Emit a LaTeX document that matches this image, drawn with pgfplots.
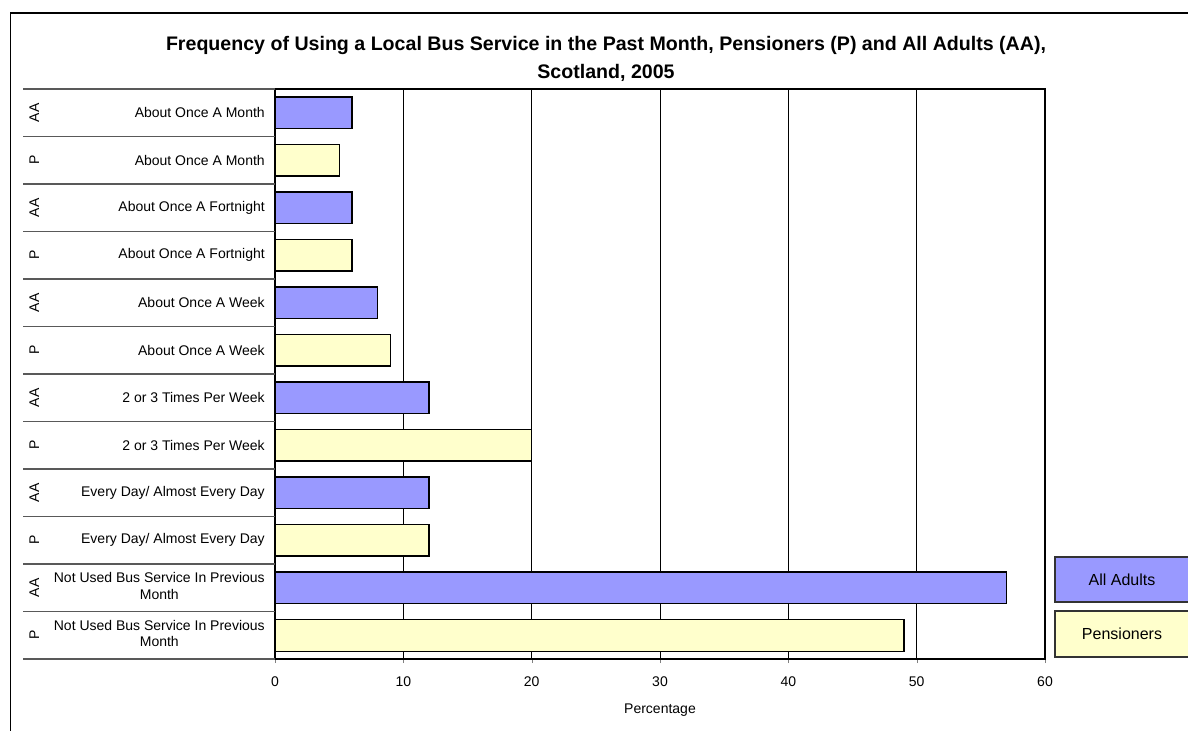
\documentclass[border=0pt]{standalone}
\usepackage{fontspec}
\setmainfont{Liberation Sans}
\usepackage{graphicx}
\usepackage{pgfplots}
\pgfplotsset{compat=1.18}
\definecolor{aacol}{HTML}{9999FF}
\definecolor{pcol}{HTML}{FFFFCC}
\newcommand{\lab}[2]{\parbox[c]{20pt}{\centering\rotatebox{90}{#1}}\parbox[c]{162.75pt}{\raggedleft #2}}
\newcommand{\twol}[2]{\begin{tabular}{@{}c@{}}#1\\#2\end{tabular}}
\begin{document}
\begin{tikzpicture}[x=0.75pt,y=0.75pt]
\useasboundingbox (0,0) rectangle (1188,731);
\draw[line width=0.9pt] (10.5,0) -- (10.5,718) -- (1200,718);
\node[align=center,font=\bfseries\fontsize{14.7}{21}\selectfont] at (606,672) {Frequency of Using a Local Bus Service in the Past Month, Pensioners (P) and All Adults (AA),\\Scotland, 2005};
\begin{axis}[
  at={(206.25pt,54pt)}, anchor=south west,
  scale only axis, width=577.5pt, height=427.5pt,
  xmin=0, xmax=60, xtick={0,10,...,60},
  ymin=-0.5, ymax=11.5, y dir=reverse,
  ytick={0,...,11},
  yticklabels={
    {\lab{AA}{About Once A Month}},
    {\lab{P}{About Once A Month}},
    {\lab{AA}{About Once A Fortnight}},
    {\lab{P}{About Once A Fortnight}},
    {\lab{AA}{About Once A Week}},
    {\lab{P}{About Once A Week}},
    {\lab{AA}{2 or 3 Times Per Week}},
    {\lab{P}{2 or 3 Times Per Week}},
    {\lab{AA}{Every Day/ Almost Every Day}},
    {\lab{P}{Every Day/ Almost Every Day}},
    {\lab{AA}{\twol{Not Used Bus Service In Previous}{Month}}},
    {\lab{P}{\twol{Not Used Bus Service In Previous}{Month}}}},
  ytick style={draw=none},
  yticklabel style={anchor=east,inner sep=0pt,xshift=-4.5pt,font=\fontsize{10.5}{12.5}\selectfont},
  xticklabel style={font=\fontsize{10.5}{12.5}\selectfont},
  x tick label style={yshift=-7pt},
  /pgf/number format/assume math mode=true,
  tick align=outside, xtick pos=bottom,
  major tick length=3pt,
  xmajorgrids, grid style={black, line width=0.6pt},
  axis line style={black, line width=0.8pt},
  xlabel={Percentage},
  xlabel style={font=\fontsize{10.5}{12.5}\selectfont, yshift=-6pt},
  xbar, bar width=0.67, bar shift=0pt,
  clip=false,
]
\addplot[fill=aacol, draw=black, line width=1pt] coordinates {(6,0) (6,2) (8,4) (12,6) (12,8) (57,10)};
\addplot[fill=pcol, draw=black, line width=1pt] coordinates {(5,1) (6,3) (9,5) (20,7) (12,9) (49,11)};
\pgfplotsinvokeforeach{-0.5,0.5,1.5,2.5,3.5,4.5,5.5,6.5,7.5,8.5,9.5,10.5,11.5}{
  \draw[black!65, line width=0.8pt] (axis cs:0,#1) -- ++(-189pt,0pt);
}
\end{axis}
\draw[fill=aacol, draw=black!80, line width=0.8pt] (1055,174) rectangle (1195,129);
\node[font=\fontsize{12}{14}\selectfont] at (1122,151.5) {All Adults};
\draw[fill=pcol, draw=black!80, line width=0.8pt] (1055,120) rectangle (1195,74);
\node[font=\fontsize{12}{14}\selectfont] at (1122,97) {Pensioners};
\end{tikzpicture}
\end{document}
